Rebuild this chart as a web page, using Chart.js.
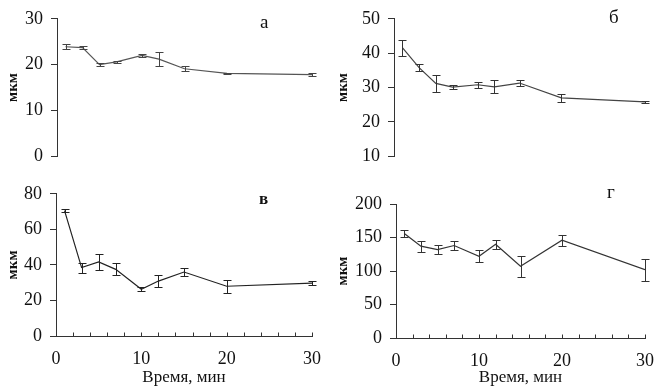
<!DOCTYPE html>
<html>
<head>
<meta charset="utf-8">
<script src="https://cdn.jsdelivr.net/npm/chart.js@4"></script>
<style>
  body { margin: 0; background: #fff; width: 659px; height: 388px; overflow: hidden; position: relative; }
  canvas { position: absolute; }
  .tag { position: absolute; font-family: "Liberation Serif", "Times New Roman", serif; font-size: 19px; color: #111; line-height: 1; }
</style>
</head>
<body>
<canvas id="panelA" width="330" height="175" style="left:0;top:0"></canvas>
<canvas id="panelB" width="329" height="175" style="left:330px;top:0"></canvas>
<canvas id="panelC" width="330" height="213" style="left:0;top:175px"></canvas>
<canvas id="panelD" width="329" height="213" style="left:330px;top:175px"></canvas>
<div class="tag" style="left:260px;top:12px">а</div>
<div class="tag" style="left:609px;top:7px">б</div>
<div class="tag" style="left:259px;top:190px;font-weight:bold;font-size:17px">в</div>
<div class="tag" style="left:607px;top:182px">г</div>
<script>
// sampling times, min
const times = [1, 3, 5, 7, 10, 12, 15, 20, 30];

// а
const valuesA = [23.9, 23.7, 20.0, 20.6, 22.0, 21.2, 19.1, 18.1, 17.8];
const errorsA = [0.5, 0.35, 0.4, 0.15, 0.4, 1.5, 0.5, 0.1, 0.3];
const ticksA = [0, 10, 20, 30];

// б
const valuesB = [41.6, 35.8, 31.2, 30.1, 30.8, 30.2, 31.3, 27.0, 25.8];
const errorsB = [2.3, 1.0, 2.5, 0.5, 0.9, 1.9, 0.9, 1.2, 0.4];
const ticksB = [10, 20, 30, 40, 50];

// в
const valuesC = [70.5, 38.5, 41.7, 37.5, 26.3, 30.9, 36.0, 28.0, 29.7];
const errorsC = [1.0, 2.8, 4.3, 3.3, 1.0, 3.3, 2.2, 3.7, 1.1];
const ticksC = [0, 20, 40, 60, 80];

// г
const valuesD = [156, 137, 132, 138, 122, 140, 107, 146, 102];
const errorsD = [5, 8, 7, 7, 9, 7, 15.5, 8, 16.5];
const ticksD = [0, 50, 100, 150, 200];

const xLabels = [0, 10, 20, 30];

const serif = '"Liberation Serif", "Times New Roman", serif';

// vertical error bars with caps
const errorBars = {
    id: 'errorBars',
    afterDatasetsDraw(chart, args, opts) {
        const ctx = chart.ctx;
        const x = chart.scales.x, y = chart.scales.y;
        const ds = chart.data.datasets[0];
        ctx.save();
        ctx.strokeStyle = opts.color || '#333';
        ctx.lineWidth = 1;
        ds.data.forEach((p, i) => {
            const e = opts.errors[i];
            const px = Math.round(x.getPixelForValue(p.x)) + 0.5;
            const top = Math.round(y.getPixelForValue(p.y + e)) + 0.5;
            const bot = Math.round(y.getPixelForValue(p.y - e)) + 0.5;
            ctx.beginPath();
            ctx.moveTo(px, top); ctx.lineTo(px, bot);
            ctx.moveTo(px - 4, top); ctx.lineTo(px + 4, top);
            ctx.moveTo(px - 4, bot); ctx.lineTo(px + 4, bot);
            ctx.stroke();
        });
        ctx.restore();
    }
};

// small tick marks pointing up into the plot on the time axis
const innerTicks = {
    id: 'innerTicks',
    afterDraw(chart, args, opts) {
        if (!opts.show) return;
        const ctx = chart.ctx;
        const x = chart.scales.x;
        const base = Math.round(chart.chartArea.bottom) + 0.5;
        ctx.save();
        ctx.strokeStyle = '#333';
        ctx.lineWidth = 1;
        ctx.beginPath();
        x.ticks.forEach(t => {
            if (t.value === 0) return;
            const px = Math.round(x.getPixelForValue(t.value)) + 0.5;
            ctx.moveTo(px, base);
            ctx.lineTo(px, base - 4);
        });
        ctx.stroke();
        ctx.restore();
    }
};

function makePanel(id, values, errors, yTicks, cfg) {
    const points = times.map((t, i) => ({ x: t, y: values[i] }));
    new Chart(document.getElementById(id), {
        type: 'line',
        data: {
            datasets: [{
                data: points,
                borderColor: cfg.lineColor,
                borderWidth: 1.2,
                pointRadius: 0,
                tension: 0,
                fill: false
            }]
        },
        options: {
            responsive: false,
            animation: false,
            events: [],
            layout: { padding: cfg.padding },
            plugins: {
                legend: { display: false },
                tooltip: { enabled: false },
                errorBars: { errors: errors, color: cfg.barColor },
                innerTicks: { show: cfg.bottom }
            },
            scales: {
                x: {
                    type: 'linear',
                    display: cfg.bottom,
                    min: 0,
                    max: 30,
                    afterFit: s => { s.height = cfg.xHeight; },
                    border: { display: true, color: '#333', width: 1 },
                    grid: { display: false },
                    ticks: {
                        stepSize: 2,
                        autoSkip: false,
                        maxRotation: 0,
                        padding: 4,
                        color: '#111',
                        font: { family: serif, size: 18 },
                        callback: v => xLabels.includes(v) ? v : ''
                    },
                    title: {
                        display: cfg.bottom,
                        text: 'Время, мин',
                        color: '#111',
                        font: { family: serif, size: 17 },
                        padding: { top: 0, bottom: 0 }
                    }
                },
                y: {
                    min: yTicks[0],
                    max: yTicks[yTicks.length - 1],
                    afterFit: s => { s.width = cfg.yWidth; },
                    afterBuildTicks: s => { s.ticks = yTicks.map(v => ({ value: v })); },
                    border: { display: true, color: '#333', width: 1 },
                    grid: { drawOnChartArea: false, drawTicks: true, tickLength: 6, color: '#333' },
                    ticks: {
                        padding: 8,
                        color: '#111',
                        font: { family: serif, size: 18 }
                    },
                    title: {
                        display: true,
                        text: 'мкм',
                        color: '#111',
                        font: { family: serif, size: cfg.unitSize, weight: cfg.unitWeight },
                        padding: { top: 4, bottom: 0 }
                    }
                }
            }
        },
        plugins: [errorBars, innerTicks]
    });
}

makePanel('panelA', valuesA, errorsA, ticksA, {
    lineColor: '#555', barColor: '#444', bottom: false,
    padding: { top: 13, right: 18, bottom: 10, left: 0 },
    yWidth: 57, xHeight: 0, unitSize: 15, unitWeight: 'bold'
});

makePanel('panelB', valuesB, errorsB, ticksB, {
    lineColor: '#444', barColor: '#333', bottom: false,
    padding: { top: 12, right: 14, bottom: 10, left: 0 },
    yWidth: 64, xHeight: 0, unitSize: 15, unitWeight: 'bold'
});

makePanel('panelC', valuesC, errorsC, ticksC, {
    lineColor: '#222', barColor: '#222', bottom: true,
    padding: { top: 18, right: 18, bottom: 0, left: 0 },
    yWidth: 56, xHeight: 52, unitSize: 15, unitWeight: 'bold'
});

makePanel('panelD', valuesD, errorsD, ticksD, {
    lineColor: '#333', barColor: '#333', bottom: true,
    padding: { top: 29, right: 14, bottom: 0, left: 0 },
    yWidth: 66, xHeight: 50, unitSize: 15, unitWeight: 'bold'
});
</script>
</body>
</html>
